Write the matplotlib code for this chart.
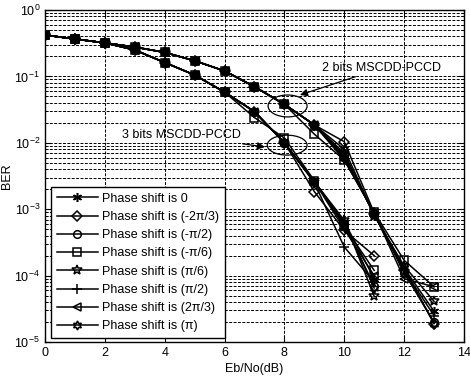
import matplotlib
matplotlib.use("Agg")
import matplotlib.pyplot as plt
import numpy as np
from matplotlib.patches import Ellipse
from matplotlib.ticker import LogLocator, FixedLocator

plt.rcParams['font.family'] = ['Liberation Sans', 'DejaVu Sans']
plt.rcParams['mathtext.fontset'] = 'custom'
plt.rcParams['mathtext.rm'] = 'Liberation Sans'

labels = ['Phase shift is 0', 'Phase shift is (-2\u03c0/3)', 'Phase shift is (-\u03c0/2)',
          'Phase shift is (-\u03c0/6)', 'Phase shift is (\u03c0/6)', 'Phase shift is (\u03c0/2)',
          'Phase shift is (2\u03c0/3)', 'Phase shift is (\u03c0)']

# 3 bits MSCDD-PCCD, Eb/No = 0..11 dB
snr3 = [0, 1, 2, 3, 4, 5, 6, 7, 8, 9, 10, 11]
ber3 = {
    'p0':    [0.42, 0.366, 0.32, 0.25, 0.162, 0.105, 0.058, 0.0295, 0.0100, 0.0026, 6.5e-4, 9.0e-5],
    'm2p3':  [0.42, 0.366, 0.32, 0.25, 0.162, 0.105, 0.058, 0.0295, 0.0100, 0.00184, 4.8e-4, 2.0e-4],
    'mp2':   [0.42, 0.366, 0.32, 0.25, 0.162, 0.105, 0.058, 0.0295, 0.0100, 0.0026, 6.0e-4, 7.0e-5],
    'mp6':   [0.42, 0.366, 0.32, 0.25, 0.162, 0.105, 0.058, 0.0240, 0.0118, 0.0027, 5.5e-4, 1.2e-4],
    'pp6':   [0.42, 0.366, 0.32, 0.25, 0.162, 0.105, 0.058, 0.0295, 0.0100, 0.0026, 6.8e-4, 4.9e-5],
    'pp2':   [0.42, 0.366, 0.32, 0.25, 0.162, 0.105, 0.058, 0.0295, 0.0100, 0.0025, 2.7e-4, 8.0e-5],
    'p2p3':  [0.42, 0.366, 0.32, 0.25, 0.162, 0.105, 0.058, 0.0295, 0.0100, 0.0026, 5.0e-4, 1.0e-4],
    'pi':    [0.42, 0.366, 0.32, 0.25, 0.162, 0.105, 0.058, 0.0295, 0.0100, 0.0026, 6.2e-4, 6.5e-5],
}

# 2 bits MSCDD-PCCD, Eb/No = 0..13 dB
snr2 = [0, 1, 2, 3, 4, 5, 6, 7, 8, 9, 10, 11, 12, 13]
ber2 = {
    'p0':    [0.42, 0.366, 0.32, 0.277, 0.23, 0.172, 0.121, 0.070, 0.038, 0.0186, 0.0060, 8.5e-4, 1.3e-4, 2.9e-5],
    'm2p3':  [0.42, 0.366, 0.32, 0.277, 0.23, 0.172, 0.121, 0.070, 0.038, 0.0186, 0.0104, 8.8e-4, 1.2e-4, 1.9e-5],
    'mp2':   [0.42, 0.366, 0.32, 0.277, 0.23, 0.172, 0.121, 0.070, 0.038, 0.0186, 0.0065, 8.5e-4, 1.1e-4, 2.0e-5],
    'mp6':   [0.42, 0.366, 0.32, 0.277, 0.23, 0.172, 0.121, 0.070, 0.038, 0.0135, 0.0055, 9.0e-4, 1.7e-4, 6.8e-5],
    'pp6':   [0.42, 0.366, 0.32, 0.277, 0.23, 0.172, 0.121, 0.070, 0.038, 0.0186, 0.0070, 8.0e-4, 1.4e-4, 4.1e-5],
    'pp2':   [0.42, 0.366, 0.32, 0.277, 0.23, 0.172, 0.121, 0.070, 0.038, 0.0186, 0.0060, 8.5e-4, 1.2e-4, 2.5e-5],
    'p2p3':  [0.42, 0.366, 0.32, 0.277, 0.23, 0.172, 0.121, 0.070, 0.038, 0.0186, 0.0055, 8.8e-4, 9.0e-5, 6.8e-5],
    'pi':    [0.42, 0.366, 0.32, 0.277, 0.23, 0.172, 0.121, 0.070, 0.038, 0.0186, 0.0080, 8.2e-4, 1.3e-4, 1.9e-5],
}

keys = ['p0', 'm2p3', 'mp2', 'mp6', 'pp6', 'pp2', 'p2p3', 'pi']
markers = [(6, 2, 0), 'D', 'o', 's', '*', '+', '<', (6, 1, 0)]
msizes = [6.5, 5, 5.5, 5.5, 7, 7.5, 5.5, 6.5]

xticks = [0, 2, 4, 6, 8, 10, 12, 14]

fig = plt.figure(figsize=(4.70, 3.78), dpi=100)
ax = fig.add_axes([0.0957, 0.0952, 0.8915, 0.8783])
ax.set_yscale('log')

handles = []
for k, m, ms, lab in zip(keys, markers, msizes, labels):
    style = dict(color='k', lw=1.1, marker=m, ms=ms, mfc='none', mec='k', mew=1.1)
    h, = ax.plot(snr2, ber2[k], label=lab, **style)
    ax.plot(snr3, ber3[k], **style)
    handles.append(h)

ax.set_xlim(0, 14)
ax.set_ylim(1e-5, 1)
ax.xaxis.set_major_locator(FixedLocator(xticks))
ax.yaxis.set_major_locator(LogLocator(base=10, numticks=10))
ax.yaxis.set_minor_locator(LogLocator(base=10, subs=np.arange(2, 10), numticks=20))
ax.tick_params(which='both', direction='in', top=True, right=True, labelsize=9, colors='k')
ax.tick_params(which='major', length=4)
ax.tick_params(which='minor', length=2.5)
ax.grid(True, which='major', color='k', ls=(0, (3, 1.5)), lw=0.7)
ax.grid(True, which='minor', axis='y', color='k', ls=(0, (3, 1.5)), lw=0.7)
for s in ax.spines.values():
    s.set_linewidth(1.0)

ax.set_xlabel('Eb/No(dB)', fontsize=9, labelpad=3)
ax.set_ylabel('BER', fontsize=9, labelpad=1)

leg = ax.legend(handles=handles, loc='lower left', bbox_to_anchor=(6 / 419, 4 / 332),
                borderaxespad=0, fontsize=9, frameon=True, fancybox=False,
                edgecolor='k', framealpha=1, handlelength=3.3, labelspacing=0.5,
                handletextpad=0.35, borderpad=0.45)
leg.get_frame().set_linewidth(1.0)

ax.add_patch(Ellipse((0.579, 0.711), 0.093, 0.066, transform=ax.transAxes,
                     fill=False, ec='k', lw=0.9))
ax.add_patch(Ellipse((0.578, 0.593), 0.095, 0.060, transform=ax.transAxes,
                     fill=False, ec='k', lw=0.9))

arrow = dict(arrowstyle='-|>', color='k', lw=0.9, mutation_scale=11, shrinkA=0, shrinkB=0)
ax.annotate('2 bits MSCDD-PCCD', xy=(8.52, 0.0525), xytext=(11.26, 0.134),
            fontsize=9, ha='center', va='center', arrowprops=arrow)
ax.annotate('3 bits MSCDD-PCCD', xy=(7.35, 0.00865), xytext=(4.55, 0.0131),
            fontsize=9, ha='center', va='center', arrowprops=arrow)

fig.savefig('out.png', dpi=100)
